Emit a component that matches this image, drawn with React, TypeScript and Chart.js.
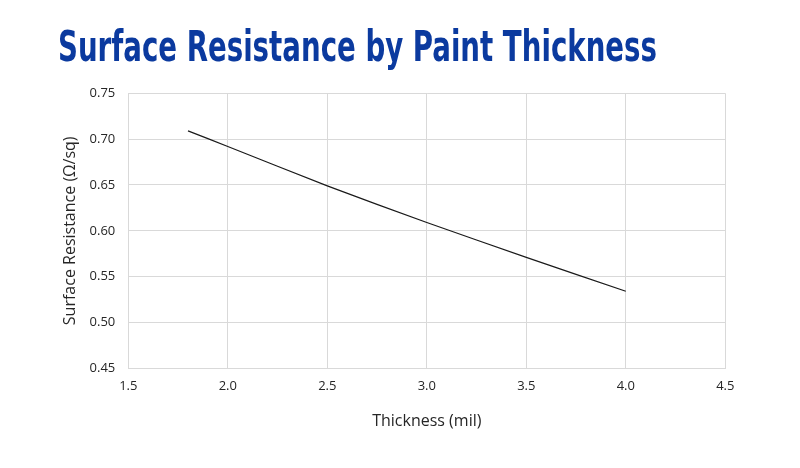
import React, { useEffect, useRef } from 'react';
import { Chart, registerables } from 'chart.js';

Chart.register(...registerables);

const thickness = [1.8, 2.0, 2.5, 3.0, 3.5, 4.0];
const resistance = [0.709, 0.692, 0.649, 0.609, 0.571, 0.534];
const xTicks = [1.5, 2.0, 2.5, 3.0, 3.5, 4.0, 4.5];
const yTicks = [0.45, 0.5, 0.55, 0.6, 0.65, 0.7, 0.75];

const GRID = '#d9d9d9';
const TEXT = '#262626';
const FONT = "'Open Sans', 'Noto Sans', sans-serif";
const TITLE_WIDTH = 599;

const App: React.FC = () => {
  const canvasRef = useRef<HTMLCanvasElement | null>(null);
  const titleRef = useRef<HTMLDivElement | null>(null);
  const chartRef = useRef<Chart<'line'> | null>(null);

  useEffect(() => {
    document.body.style.margin = '0';

    // squeeze the heading to the condensed width of the original
    const title = titleRef.current;
    if (title) {
      title.style.transform = 'none';
      const w = title.getBoundingClientRect().width;
      if (w > 0) title.style.transform = `scaleX(${TITLE_WIDTH / w})`;
    }

    const ctx = canvasRef.current?.getContext('2d');
    if (!ctx) return;

    chartRef.current = new Chart(ctx, {
      type: 'line',
      data: {
        datasets: [
          {
            label: 'Surface Resistance',
            data: thickness.map((t, i) => ({ x: t, y: resistance[i] })),
            borderColor: '#1a1a1a',
            borderWidth: 1.2,
            pointRadius: 0,
            tension: 0.2,
            fill: false,
          },
        ],
      },
      options: {
        animation: false,
        responsive: false,
        layout: { padding: { left: 0, right: 74.7, top: 93.3, bottom: 0 } },
        plugins: {
          legend: { display: false },
          tooltip: { enabled: false },
          title: { display: false },
        },
        scales: {
          x: {
            type: 'linear',
            min: 1.5,
            max: 4.5,
            afterBuildTicks: (scale: any) => {
              scale.ticks = xTicks.map((v) => ({ value: v }));
            },
            afterFit: (scale: any) => {
              scale.height = 468 - 368.3;
            },
            grid: { color: GRID, lineWidth: 1, drawTicks: false },
            border: { color: GRID, width: 1 },
            ticks: {
              padding: 10,
              color: TEXT,
              font: { family: FONT, size: 13 },
              callback: (v: any) => Number(v).toFixed(1),
            },
            title: {
              display: true,
              text: 'Thickness (mil)',
              color: TEXT,
              font: { family: FONT, size: 16 },
              padding: { top: 0, bottom: 37 },
            },
          },
          y: {
            type: 'linear',
            min: 0.45,
            max: 0.75,
            afterBuildTicks: (scale: any) => {
              scale.ticks = yTicks.map((v) => ({ value: v }));
            },
            afterFit: (scale: any) => {
              scale.width = 128.3;
            },
            grid: { color: GRID, lineWidth: 1, drawTicks: false },
            border: { color: GRID, width: 1 },
            ticks: {
              padding: 13,
              color: TEXT,
              font: { family: FONT, size: 13 },
              callback: (v: any) => Number(v).toFixed(2),
            },
            title: {
              display: true,
              text: 'Surface Resistance (Ω/sq)',
              color: TEXT,
              font: { family: FONT, size: 16 },
              padding: { top: 61, bottom: 0 },
            },
          },
        },
      },
    });

    return () => {
      if (chartRef.current) {
        chartRef.current.destroy();
        chartRef.current = null;
      }
    };
  }, []);

  return (
    <div style={{ position: 'relative', width: 800, height: 468, background: '#fff', overflow: 'hidden' }}>
      <canvas ref={canvasRef} width={800} height={468} style={{ display: 'block' }} />
      <div
        ref={titleRef}
        style={{
          position: 'absolute',
          left: 58,
          top: 25,
          fontFamily: "'Liberation Sans Narrow', 'DejaVu Sans Condensed', 'Roboto Condensed', sans-serif",
          fontStretch: 'condensed',
          fontWeight: 700,
          fontSize: 42,
          lineHeight: '44px',
          color: '#0b3a9f',
          whiteSpace: 'nowrap',
          transformOrigin: 'left top',
        }}
      >
        Surface Resistance by Paint Thickness
      </div>
    </div>
  );
};

export default App;
